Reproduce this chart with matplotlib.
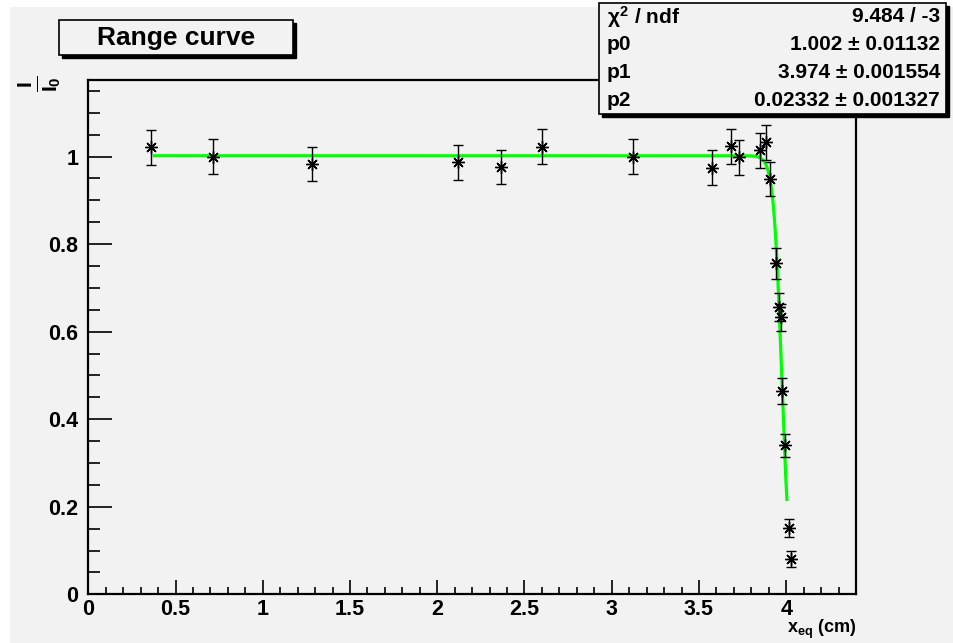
import numpy as np
import matplotlib
matplotlib.use("Agg")
import matplotlib.pyplot as plt
from matplotlib.patches import Rectangle
from matplotlib.ticker import MultipleLocator

plt.rcParams["font.family"] = ["Liberation Sans", "DejaVu Sans"]
plt.rcParams["font.weight"] = "bold"
plt.rcParams["mathtext.fontset"] = "custom"
plt.rcParams["mathtext.rm"] = "Liberation Sans:bold"
plt.rcParams["mathtext.it"] = "Liberation Sans:bold"
plt.rcParams["mathtext.bf"] = "Liberation Sans:bold"

# measured relative intensity vs. equivalent thickness
x_eq = [0.357, 0.712, 1.281, 2.119, 2.364, 2.600, 3.120, 3.574, 3.681, 3.732,
        3.847, 3.885, 3.908, 3.943, 3.956, 3.971, 3.975, 3.992, 4.015, 4.025]
ratio = [1.021, 1.000, 0.983, 0.987, 0.976, 1.023, 1.000, 0.975, 1.024, 0.999,
         1.015, 1.033, 0.949, 0.756, 0.657, 0.633, 0.465, 0.340, 0.152, 0.081]
ratio_err = [0.040, 0.040, 0.039, 0.040, 0.039, 0.040, 0.040, 0.039, 0.040, 0.040,
             0.040, 0.040, 0.039, 0.036, 0.032, 0.031, 0.030, 0.027, 0.021, 0.018]

# fit result
p0, p0_err = 1.002, 0.01132
p1, p1_err = 3.974, 0.001554
p2, p2_err = 0.02332, 0.001327
chi2, ndf = 9.484, -3
fit_range = (0.378, 4.004)

xticks = [0, 0.5, 1, 1.5, 2, 2.5, 3, 3.5, 4]
xtick_labels = ["0", "0.5", "1", "1.5", "2", "2.5", "3", "3.5", "4"]
yticks = [0, 0.2, 0.4, 0.6, 0.8, 1.0]
ytick_labels = ["0", "0.2", "0.4", "0.6", "0.8", "1"]

W, H = 954, 643
BG = "#f2f2f2"


def fig_rect(x0, y0, x1, y1):
    # pixel box (top-left origin) -> figure fraction rectangle
    return (x0 / W, 1 - y1 / H), (x1 - x0) / W, (y1 - y0) / H


def shadow_box(fig, x0, y0, x1, y1, off=3):
    xy, w, h = fig_rect(x0 + off, y0 + off, x1 + off, y1 + off)
    fig.add_artist(Rectangle(xy, w, h, transform=fig.transFigure,
                             fc="black", ec="black", zorder=5))
    xy, w, h = fig_rect(x0, y0, x1, y1)
    fig.add_artist(Rectangle(xy, w, h, transform=fig.transFigure,
                             fc=BG, ec="black", lw=1.2, zorder=6))


fig = plt.figure(figsize=(W / 100, H / 100), dpi=100)
fig.patch.set_facecolor("white")
xy, w, h = fig_rect(10, 7, W, H)
fig.add_artist(Rectangle(xy, w, h, transform=fig.transFigure,
                         fc=BG, ec="none", zorder=0))

ax = fig.add_axes([88.3 / W, 1 - 594.3 / H, (856 - 88.3) / W, (594.3 - 80) / H])
ax.set_facecolor(BG)
ax.set_xlim(0, 4.4)
ax.set_ylim(0, 1.175)

xs = np.linspace(fit_range[0], fit_range[1], 500)
ax.plot(xs, p0 / (1 + np.exp((xs - p1) / p2)), color="#00ff00", lw=2.3, zorder=2)

ax.errorbar(x_eq, ratio, yerr=ratio_err, fmt="none", ecolor="black",
            elinewidth=1, capsize=3.5, capthick=1, zorder=3)
ax.plot(x_eq, ratio, ls="none", marker=(8, 2, 0), ms=9, mec="black",
        mfc="black", mew=1, zorder=4)

for side in ax.spines.values():
    side.set_linewidth(1.6)

ax.set_xticks(xticks)
ax.set_xticklabels(xtick_labels)
ax.set_yticks(yticks)
ax.set_yticklabels(ytick_labels)
ax.xaxis.set_minor_locator(MultipleLocator(0.1))
ax.yaxis.set_minor_locator(MultipleLocator(0.05))
ax.tick_params(which="both", direction="in", width=1.2, labelsize=15.5)
ax.tick_params(axis="x", which="major", length=10, pad=3.5)
ax.tick_params(axis="x", which="minor", length=5)
ax.tick_params(axis="y", which="major", length=17, pad=7)
ax.tick_params(axis="y", which="minor", length=8.5)
for lab in ax.get_xticklabels() + ax.get_yticklabels():
    lab.set_fontweight("bold")

fig.text(856 / W, 1 - 633 / H, r"$x_{eq}$ (cm)", ha="right", va="baseline",
         fontsize=13)
fig.text(39 / W, 1 - 84 / H, r"$\frac{I}{I_0}$", rotation=90, ha="center",
         va="center", fontsize=22)

# title box
shadow_box(fig, 59, 20, 293, 55)
fig.text(176 / W, 1 - 38 / H, "Range curve", ha="center", va="center",
         fontsize=19, fontweight="bold", zorder=7)

# fit statistics box
shadow_box(fig, 599, 3, 946, 114)
rows = [(r"$\chi^{2}$ / ndf", f"{chi2:.3f} / {ndf}"),
        ("p0", f"{p0} ± {p0_err}"),
        ("p1", f"{p1} ± {p1_err}"),
        ("p2", f"{p2} ± {p2_err}")]
for i, (name, val) in enumerate(rows):
    yc = 1 - (17 + 28 * i) / H
    fig.text(607 / W, yc, name, ha="left", va="center", fontsize=15, zorder=7)
    fig.text(940 / W, yc, val, ha="right", va="center", fontsize=15, zorder=7)

fig.savefig("out.png", dpi=100, facecolor=fig.get_facecolor())
